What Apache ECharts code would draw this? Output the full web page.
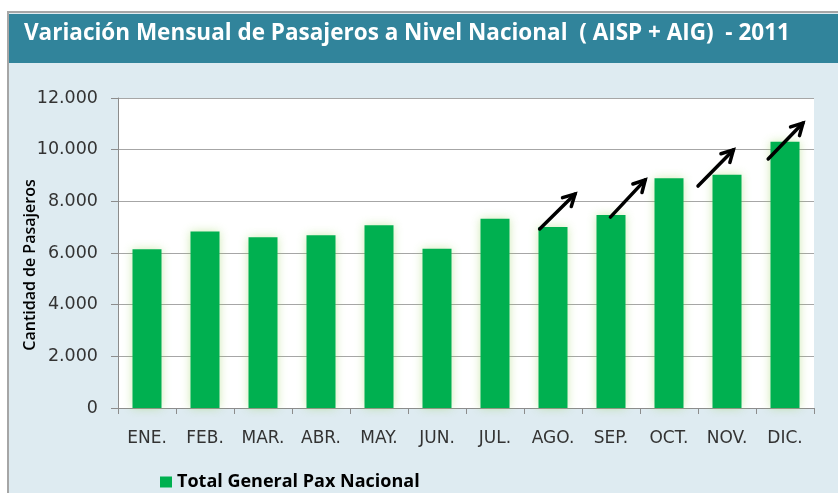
<!DOCTYPE html>
<html><head><meta charset="utf-8">
<script src="https://cdn.jsdelivr.net/npm/echarts@6/dist/echarts.min.js"></script>
<style>html,body{margin:0;padding:0;background:#fff}#c{width:838px;height:493px}</style>
</head><body><div id="c"></div>
<script>
const titleText = 'Variación Mensual de Pasajeros a Nivel Nacional  ( AISP + AIG)  - 2011';
const months = ['ENE.','FEB.','MAR.','ABR.','MAY.','JUN.','JUL.','AGO.','SEP.','OCT.','NOV.','DIC.'];
const pax = [6150, 6830, 6610, 6690, 7070, 6160, 7330, 7010, 7470, 8890, 9030, 10310];
const seriesName = 'Total General Pax Nacional';
const yAxisName = 'Cantidad de Pasajeros';
// trend arrows: [category index, start offset (bands), start value, end offset (bands), end value]
const arrowCat = [7, 8, 10, 11];
const arrowFrom = [[-0.23, 6930], [-0.01, 7390], [-0.50, 8590], [-0.29, 9640]];
const arrowTo = [[0.38, 8280], [0.59, 8830], [0.11, 9990], [0.31, 11030]];

const arrowData = arrowCat.map((c, i) => [c, arrowFrom[i][0], arrowFrom[i][1], arrowTo[i][0], arrowTo[i][1]]);
const fmt = v => v === 0 ? '0' : String(v).replace(/\B(?=(\d{3})+(?!\d))/g, '.');

const chart = echarts.init(document.getElementById('c'), null, {renderer: 'canvas'});
chart.setOption({
  animation: false,
  backgroundColor: '#ffffff',
  graphic: [
    {type: 'rect', z: -10, shape: {x: 8, y: 12, width: 840, height: 490}, style: {fill: '#DEEBF1', stroke: '#A6A6A6', lineWidth: 2}},
    {type: 'rect', z: -9, shape: {x: 9, y: 14, width: 838, height: 49}, style: {fill: '#31849B'}},
    {type: 'text', z: 10, left: 24, top: 22, style: {text: titleText, fill: '#ffffff', font: 'bold 22.5px "Open Sans", sans-serif'}}
  ],
  grid: {left: 118, right: 24, top: 98, bottom: 85, show: true, backgroundColor: '#ffffff', borderWidth: 0},
  legend: {
    data: [seriesName], left: 155, top: 468, icon: 'rect', itemWidth: 12, itemHeight: 11, itemGap: 6,
    textStyle: {fontFamily: '"Open Sans", sans-serif', fontWeight: 'bold', fontSize: 18, color: '#000'}
  },
  xAxis: {
    type: 'category', data: months,
    axisLine: {lineStyle: {color: '#8C8C8C', width: 1}},
    axisTick: {show: true, length: 6, lineStyle: {color: '#8C8C8C'}},
    axisLabel: {margin: 22, fontFamily: '"DejaVu Sans", sans-serif', fontSize: 17, color: '#333333'}
  },
  yAxis: {
    type: 'value', min: 0, max: 12000, interval: 2000,
    name: yAxisName, nameLocation: 'middle', nameGap: 80, nameRotate: 90, nameMoveOverlap: false,
    nameTextStyle: {fontFamily: '"Open Sans", sans-serif', fontSize: 16, color: '#000', fontWeight: 600, padding: [0, 24, 0, 0]},
    axisLine: {show: true, lineStyle: {color: '#8C8C8C'}},
    axisTick: {show: true, length: 7, lineStyle: {color: '#8C8C8C'}},
    splitLine: {lineStyle: {color: '#A6A6A6', width: 1}},
    axisLabel: {margin: 20, formatter: fmt, fontFamily: '"DejaVu Sans", sans-serif', fontSize: 17.5, color: '#333333'}
  },
  series: [
    {
      name: seriesName, type: 'bar', data: pax, barWidth: '50%',
      itemStyle: {color: '#00B050', shadowColor: 'rgba(146,208,80,0.45)', shadowBlur: 10}
    },
    {
      type: 'custom', name: 'arrows', data: arrowData, clip: false, z: 10,
      encode: {x: 0, y: 2},
      renderItem: function (params, api) {
        const cat = api.value(0);
        const band = api.size([1, 0])[0];
        const p0 = api.coord([cat, api.value(2)]);
        const p1 = api.coord([cat, api.value(4)]);
        const x0 = p0[0] + api.value(1) * band, y0 = p0[1];
        const x1 = p1[0] + api.value(3) * band, y1 = p1[1];
        const ang = Math.atan2(y1 - y0, x1 - x0);
        const h = 13, spread = 0.5;
        const a1 = [x1 - h * Math.cos(ang - spread), y1 - h * Math.sin(ang - spread)];
        const a2 = [x1 - h * Math.cos(ang + spread), y1 - h * Math.sin(ang + spread)];
        const st = {stroke: '#000', lineWidth: 3.5, lineCap: 'round', lineJoin: 'miter', fill: null};
        return {type: 'group', children: [
          {type: 'line', shape: {x1: x0, y1: y0, x2: x1, y2: y1}, style: st},
          {type: 'polyline', shape: {points: [a1, [x1, y1], a2]}, style: st}
        ]};
      }
    }
  ]
});
</script></body></html>
